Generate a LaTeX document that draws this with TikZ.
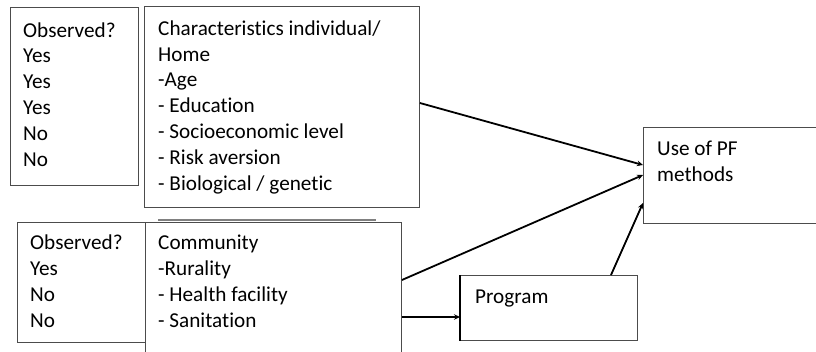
\documentclass[tikz,border=0pt]{standalone}
\usepackage{fontspec}
\setmainfont[Ligatures=NoCommon]{Carlito}
\usetikzlibrary{arrows.meta,calc}
\begin{document}
\begin{tikzpicture}[x=1pt,y=-1pt,
  box/.style={draw=black!70,line width=0.9pt,anchor=north west,inner sep=0pt,fill=none},
  txt/.style={anchor=base west,inner sep=0pt,align=left,font=\fontsize{21.2}{25.8}\selectfont},
  arr/.style={line width=1.8pt,black,-{Stealth[length=6pt,width=5.5pt]}}]
\useasboundingbox (0,0) rectangle (816,351);
% boxes
\node[box,minimum width=128pt,minimum height=178pt] (obs1) at (10,7) {};
\node[box,minimum width=275pt,minimum height=201pt] (char) at (144,6) {};
\node[box,minimum width=128pt,minimum height=120pt] (obs2) at (17,222) {};
\node[box,minimum width=256pt,minimum height=140pt] (comm) at (145,222) {};
\node[box,minimum width=190pt,minimum height=96pt] (pf) at (643,127) {};
\node[box,minimum width=177pt,minimum height=65pt] (prog) at (460,275) {};
\draw[black!50,line width=1.8pt] (158,220) -- (376,220);
\draw[line width=1.8pt] (prog.north west) -- (prog.south west);
% texts (base anchor = baseline of the last line)
\node[txt] (t1) at (23,166) {Observed?\\Yes\\Yes\\Yes\\No\\No};
\node[txt] (t2) at (158,190) {Characteristics individual/\\Home\\-Age\\- Education\\- Socioeconomic level\\- Risk aversion\\- Biological / genetic};
\node[txt] (t3) at (30,327) {Observed?\\Yes\\No\\No};
\node[txt] (t4) at (158,327) {Community\\-Rurality\\- Health facility\\- Sanitation};
\node[txt] (t5) at (657,181) {Use of PF\\methods};
\node[txt] (t6) at (475,303) {Program};
% connectors
\coordinate (s1) at ($(char.north east)+(0,97)$);
\coordinate (e1) at ($(pf.north west)+(0,38)$);
\coordinate (s2) at ($(comm.north east)+(0,58)$);
\coordinate (e2) at ($(pf.north west)+(0,48)$);
\coordinate (s3) at ($(prog.north west)+(151,0)$);
\coordinate (e3) at ($(pf.north west)+(0,76)$);
\coordinate (s4) at ($(comm.north east)+(0,95)$);
\draw[arr] (s1) -- (e1);
\draw[arr] (s2) -- (e2);
\draw[arr] (s3) -- (e3);
\draw[arr] (s4) -- (s4 -| prog.west);
\end{tikzpicture}
\end{document}
